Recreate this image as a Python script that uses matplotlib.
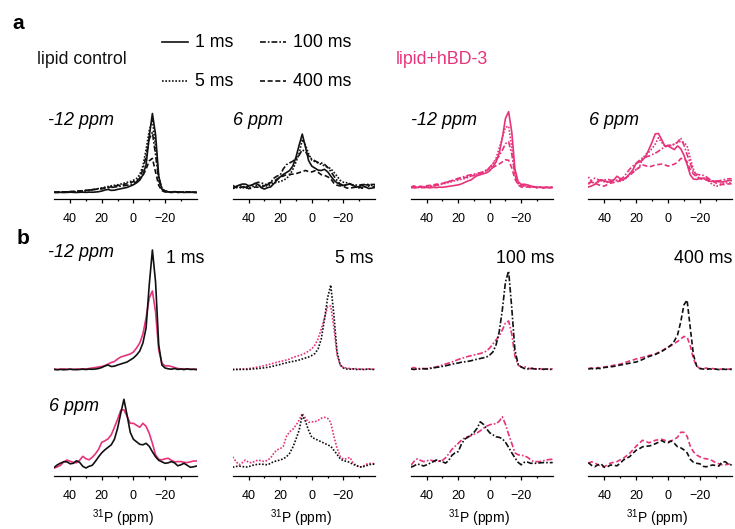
import matplotlib
matplotlib.use('Agg')
import matplotlib.pyplot as plt
from matplotlib.ticker import FixedLocator

plt.rcParams['font.family'] = ['Liberation Sans', 'DejaVu Sans']
plt.rcParams['mathtext.fontset'] = 'custom'
plt.rcParams['mathtext.rm'] = 'Liberation Sans'
plt.rcParams['mathtext.it'] = 'Liberation Sans:italic'
plt.rcParams['mathtext.bf'] = 'Liberation Sans:bold'

# ---------------- data ----------------
ppm = list(range(50, -41, -2))  # chemical shift grid, 50 ... -40 ppm
mixing_times = ['1 ms', '5 ms', '100 ms', '400 ms']
site_labels = ['-12 ppm', '6 ppm']
sample_labels = ['lipid control', 'lipid+hBD-3']

# lipid control, -12 ppm
ctrl_m12_1ms = [0.5, 0.3, 0.6, 0.2, 0.5, 0.8, 0.5, 0.3, 0.6, 0.8,
                0.5, 0.9, 0.7, 1.0, 1.5, 2.5, 4.0, 5.0, 3.5, 3.8,
                5.0, 6.0, 7.0, 8.0, 10.0, 12.0, 15, 19, 27, 42,
                85, 120, 88, 25, 5, 2, 1.2, 0.8, 1.5, 0.6,
                1.0, 0.4, 1.2, 0.5, 0.8, 0.3]
ctrl_m12_5ms = [0.3, 0.6, 0.4, 0.8, 0.5, 0.7, 0.9, 1.2, 1.5, 1.8,
                2.2, 2.7, 3.2, 4.0, 4.8, 5.5, 6.5, 7.2, 8.0, 8.6,
                9.2, 10, 11, 12, 13, 14.5, 16.5, 21, 31, 50,
                72, 85, 55, 18, 5, 2, 1.0, 0.8, 1.2, 0.5,
                0.8, 0.4, 0.7, 1.0, 0.5, 0.6]
ctrl_m12_100ms = [1.0, 0.5, 1.2, 0.8, 1.4, 1.0, 1.5, 2.0, 2.6, 3.0,
                  3.6, 4.2, 5.0, 5.8, 6.5, 7.0, 7.8, 8.2, 8.6, 9.2,
                  10, 10.8, 11.5, 12.2, 13, 15, 18, 25, 38, 60,
                  88, 99, 62, 20, 6, 3, 1.5, 1.0, 1.8, 1.2,
                  0.8, 1.3, 0.7, 1.0, 0.5, 0.8]
ctrl_m12_400ms = [1.0, 1.5, 0.8, 1.8, 1.2, 2.5, 2.8, 3.2, 3.6, 4.2,
                  5.0, 5.5, 6.2, 6.8, 7.5, 8.0, 9.0, 10.5, 12, 13.5,
                  14.5, 15.5, 17, 18.5, 20.5, 22.5, 25, 29, 35, 48,
                  65, 70, 42, 15, 4, 1.5, 1.0, 0.5, 1.2, 0.6,
                  0.9, 0.4, 1.0, 0.6, 0.8, 0.5]
# lipid + hBD-3, -12 ppm
hbd_m12_1ms = [1.0, 0.5, 0.8, 1.2, 0.6, 0.9, 0.5, 1.0, 0.7, 1.2,
               1.0, 1.5, 2.0, 2.5, 3.0, 3.5, 4.5, 6.0, 7.5, 8.5,
               11, 13, 14, 15, 16, 18, 22, 27, 36, 52,
               72, 79, 58, 20, 7, 4, 4.2, 3.5, 2.5, 1.5,
               1.0, 1.3, 0.8, 1.0, 0.6, 0.9]
hbd_m12_5ms = [0.8, 0.5, 1.2, 0.7, 1.0, 1.5, 1.8, 2.4, 3.0, 3.6,
               4.4, 5.2, 6.0, 6.8, 7.8, 8.5, 9.2, 10.0, 11.0, 12.5,
               13.5, 14.5, 15.5, 17, 19, 21, 25, 31, 41, 52,
               63, 64, 42, 15, 5, 2.5, 2.0, 1.5, 1.0, 1.4,
               0.8, 1.0, 0.6, 1.2, 0.8, 1.0]
hbd_m12_100ms = [1.5, 2.5, 1.0, 1.8, 1.2, 1.5, 2.0, 2.5, 3.0, 4.0,
                 5.0, 6.0, 7.0, 8.0, 9.2, 10.5, 11.5, 12.5, 13.5, 14.2,
                 15, 15.8, 16.5, 17.5, 19, 22, 26, 30, 34, 40,
                 47, 49, 36, 14, 5, 3, 3.5, 2.0, 1.2, 1.8,
                 1.0, 1.2, 0.6, 1.0, 0.8, 1.2]
hbd_m12_400ms = [1.5, 2.0, 1.2, 2.5, 1.8, 3.0, 3.5, 4.0, 4.8, 5.2,
                 5.8, 7.0, 8.0, 9.0, 10.0, 11.0, 12.0, 12.5, 13.5, 14.5,
                 15, 16, 17.5, 19, 21, 23, 24.5, 26.5, 28.5, 31,
                 33.5, 33, 24, 11, 4, 1.5, 1.2, 2.0, 1.0, 1.5,
                 0.8, 1.2, 0.6, 1.0, 0.8, 1.2]
# lipid control, 6 ppm
ctrl_6_1ms = [1.0, 3.5, 5.2, 6.5, 6.5, 4.5, 5.0, 7.5, 6.0, 2.0,
              0.3, 2.0, 3.0, 7.0, 11.5, 15.5, 18.5, 21, 23.5, 29,
              40, 55, 69, 53, 36, 29, 26.5, 24, 23.5, 25,
              22, 16.5, 11.5, 8, 6.5, 5, 5.5, 6.7, 5.5, 2.5,
              3.5, 5, 3, 1.0, 1.5, 2.3]
ctrl_6_5ms = [1.0, 1.8, 2.2, 1.8, 1.2, 1.5, 2.8, 3.5, 4.0, 4.2,
              3.8, 3.5, 5.0, 6.7, 7.5, 8.3, 9.5, 11.5, 15, 21,
              29, 38, 53, 47, 38, 31, 29.5, 28, 26.5, 25,
              23.5, 22, 18, 14, 9.5, 7.5, 7, 6, 4, 3,
              1.5, 1.2, 2.5, 3.3, 4.3, 4.0]
ctrl_6_100ms = [1.0, 2.5, 4.3, 3.5, 2.3, 3.5, 5, 6.5, 8.3, 7.5,
                6.5, 5.2, 8, 13, 15.5, 16.7, 24, 29, 31, 33,
                36, 40, 46.5, 44, 39.5, 35.5, 33.5, 31.5, 31, 29.5,
                26, 21, 15.5, 10.5, 6, 3.5, 6, 6.2, 5, 5,
                5, 5.5, 5.7, 5.7, 5.7, 5.7]
ctrl_6_400ms = [5.7, 3, 1.5, 3.5, 4.5, 1, 1.5, 3.3, 3, 2.5,
                5, 8.3, 10, 11.7, 15, 18, 19.5, 21.5, 22, 22.3,
                23, 24.5, 26, 27.7, 26, 25.5, 27.3, 25, 21.5, 20.5,
                18.5, 15.5, 9, 6, 5, 4.5, 2, 1.5, 2.5, 3.3,
                2.8, 2.3, 6.5, 6.5, 4, 3.3]
# lipid + hBD-3, 6 ppm
hbd_6_1ms = [0.3, 1.5, 3.0, 6.5, 8.3, 7.0, 6.0, 5.5, 8.0, 12,
             9.5, 8.5, 11, 14.5, 19, 26, 27.5, 29.5, 33.5, 41,
             49, 58, 58.5, 52, 45, 45, 43, 41, 45, 42,
             35, 25, 13.5, 9, 8.5, 9.5, 10, 8, 6.5, 6.7,
             6.7, 6.0, 5.7, 6.5, 7.3, 7.3]
hbd_6_5ms = [11.5, 7, 3.5, 5.5, 8.3, 6, 5.5, 7, 8.3, 7.5,
             6.7, 8, 10.5, 15, 18.5, 19.5, 22, 32, 36.5, 39,
             43, 48, 55, 50, 46, 46.5, 46.5, 48, 50, 51,
             50, 46, 32, 20, 12, 9, 9.5, 11, 6, 3,
             1.5, 1.5, 3.8, 4.8, 5, 4.5]
hbd_6_100ms = [3, 7, 9.5, 8, 6.7, 7.5, 8.3, 7.5, 6.7, 7.2,
               8, 10.5, 14.5, 19, 22, 25, 28, 30.5, 31.5, 32.5,
               34, 35.5, 37.5, 40, 42, 43.5, 44.3, 44.5, 47, 51.5,
               44, 34, 25, 15.5, 13.5, 13, 12.5, 11, 8.5, 6.7,
               6.7, 6.7, 7.5, 8.3, 8.8, 9]
hbd_6_400ms = [5, 6.5, 5.5, 3.5, 2, 1.5, 3.5, 5.2, 6, 6.7,
               8.5, 10, 12.5, 15, 18.5, 22, 25, 28, 27, 25.5,
               26.5, 28, 28.5, 29, 28, 26.5, 27.5, 29, 31, 36,
               36, 32, 22, 16.5, 13.3, 11.5, 10, 9.5, 9, 7.5,
               5.5, 4.5, 3.5, 3.5, 4.2, 4.5]

# relative display scale of each spectrum in the overlay row (a)
scale_a_ctrl_m12 = [0.66, 0.86, 0.61, 0.49]
scale_a_ctrl_6 = [0.80, 0.94, 0.85, 0.68]
scale_a_hbd_m12 = [0.97, 0.97, 0.95, 0.85]
scale_a_hbd_6 = [0.92, 0.90, 0.96, 0.80]

ctrl_m12 = [ctrl_m12_1ms, ctrl_m12_5ms, ctrl_m12_100ms, ctrl_m12_400ms]
ctrl_6 = [ctrl_6_1ms, ctrl_6_5ms, ctrl_6_100ms, ctrl_6_400ms]
hbd_m12 = [hbd_m12_1ms, hbd_m12_5ms, hbd_m12_100ms, hbd_m12_400ms]
hbd_6 = [hbd_6_1ms, hbd_6_5ms, hbd_6_100ms, hbd_6_400ms]

# ---------------- styles ----------------
BLACK = '#111111'
PINK = '#E6337B'
styles = ['-', (0, (1, 1)), (0, (3.5, 1.2, 1, 1.2)), (0, (3, 1.6))]
LW = 1.2

W, H = 735, 529
fig = plt.figure(figsize=(W / 100, H / 100), dpi=100)

def add_ax(x0, x1, ytop, ybot):
    return fig.add_axes([x0 / W, 1 - ybot / H, (x1 - x0) / W, (ybot - ytop) / H])

def style_ax(ax, ticks=True):
    ax.set_xlim(50, -40)
    for s in ['top', 'left', 'right']:
        ax.spines[s].set_visible(False)
    ax.set_yticks([])
    ax.patch.set_alpha(0)
    if ticks:
        ax.spines['bottom'].set_linewidth(0.9)
        ax.xaxis.set_major_locator(FixedLocator([40, 20, 0, -20]))
        ax.xaxis.set_minor_locator(FixedLocator([30, 10, -10, -30]))
        ax.tick_params(axis='x', which='major', length=3, width=0.9, pad=7,
                       labelsize=9, direction='out')
        ax.tick_params(axis='x', which='minor', length=1.6, width=0.9, direction='out')
    else:
        ax.spines['bottom'].set_visible(False)
        ax.set_xticks([])

panel_x = [(54.3, 196.7), (232.7, 375.0), (411.0, 552.7), (588.3, 731.7)]

# ---------------- row a ----------------
row_a_sets = [(ctrl_m12, scale_a_ctrl_m12, BLACK), (ctrl_6, scale_a_ctrl_6, BLACK),
              (hbd_m12, scale_a_hbd_m12, PINK), (hbd_6, scale_a_hbd_6, PINK)]
row_a_offset = [6.6, 10.0, 11.0, 12.0]
for i, (curves, scales, col) in enumerate(row_a_sets):
    ax = add_ax(panel_x[i][0], panel_x[i][1], 100.0, 199.3)
    style_ax(ax)
    off = row_a_offset[i]
    ax.set_ylim(-off, -off + 99.3)
    for k in [3, 2, 1, 0]:
        ax.plot(ppm, [v * scales[k] for v in curves[k]], color=col,
                linestyle=styles[k], lw=LW)

# ---------------- row b ----------------
for j in range(4):
    ax = add_ax(panel_x[j][0], panel_x[j][1], 240.0, 380.0)
    style_ax(ax, ticks=False)
    ax.set_ylim(-10, 130)
    ax.plot(ppm, hbd_m12[j], color=PINK, linestyle=styles[j], lw=LW)
    ax.plot(ppm, ctrl_m12[j], color=BLACK, linestyle=styles[j], lw=LW)

    ax2 = add_ax(panel_x[j][0], panel_x[j][1], 385.0, 475.7)
    style_ax(ax2)
    ax2.set_ylim(-7.4, -7.4 + 90.7)
    ax2.plot(ppm, hbd_6[j], color=PINK, linestyle=styles[j], lw=LW)
    ax2.plot(ppm, ctrl_6[j], color=BLACK, linestyle=styles[j], lw=LW)

# ---------------- overlay for annotations (pixel coords) ----------------
ov = fig.add_axes([0, 0, 1, 1])
ov.set_xlim(0, W)
ov.set_ylim(H, 0)
ov.axis('off')
ov.patch.set_alpha(0)

ov.text(12, 29.3, 'a', fontsize=15, fontweight='bold', va='baseline', ha='left')
ov.text(17, 244, 'b', fontsize=15, fontweight='bold', va='baseline', ha='left')

ov.text(37, 64.3, sample_labels[0], fontsize=12.8, va='baseline', ha='left', color=BLACK)
ov.text(395.7, 64.3, sample_labels[1], fontsize=12.8, va='baseline', ha='left', color=PINK)

leg_pos = [(161.7, 42.3, 195, 46.7), (161.7, 81.0, 195, 86.0),
           (260.0, 42.3, 293, 46.7), (260.0, 81.0, 293, 86.0)]
for k in range(4):
    lx, ly, tx, ty = leg_pos[k]
    ov.plot([lx, lx + 26], [ly, ly], color=BLACK, linestyle=styles[k], lw=LW)
    ov.text(tx, ty, mixing_times[k], fontsize=12.8, va='baseline', ha='left')

# site labels row a
for i, x in enumerate([48, 232.7, 410.7, 589.3]):
    ov.text(x, 125, site_labels[i % 2], fontsize=13, style='italic',
            va='baseline', ha='left')
# row b labels
ov.text(48, 256.7, site_labels[0], fontsize=13, style='italic', va='baseline', ha='left')
ov.text(49.3, 410.7, site_labels[1], fontsize=13, style='italic', va='baseline', ha='left')
for j, x in enumerate([165.7, 335.0, 496.0, 674.3]):
    ov.text(x, 263.3, mixing_times[j], fontsize=12.8, va='baseline', ha='left')

# x labels
for (x0, x1) in panel_x:
    ov.text((x0 + x1) / 2 - 3, 518, r'$^{31}$P (ppm)', fontsize=10,
            va='center', ha='center')

fig.savefig('out.png', dpi=100)
